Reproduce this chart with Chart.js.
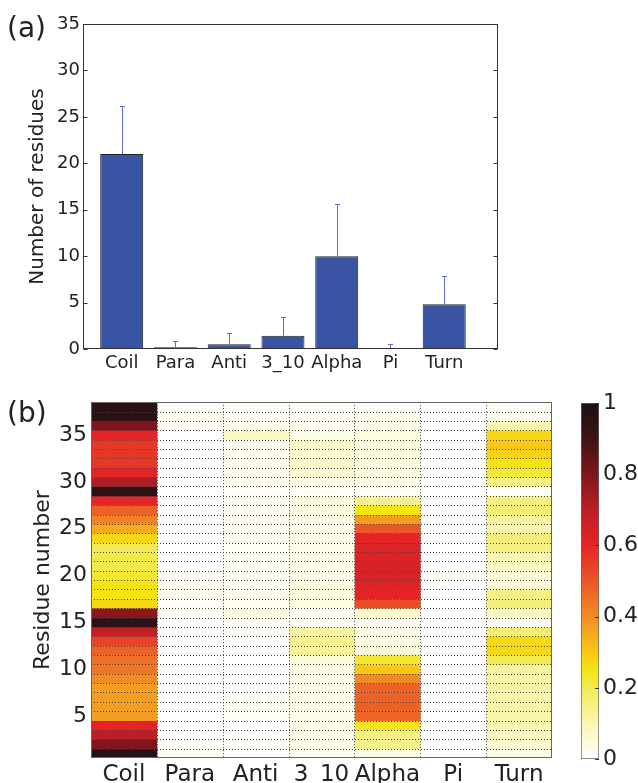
<!DOCTYPE html>
<html>
<head>
<meta charset="utf-8">
<script src="https://cdn.jsdelivr.net/npm/chart.js@4.4.1/dist/chart.umd.min.js"></script>
<style>
  html, body { margin: 0; padding: 0; background: #fff; }
  #wrap { position: relative; width: 638px; height: 783px; overflow: hidden; }
  canvas { position: absolute; }
</style>
</head>
<body>
<div id="wrap">
  <canvas id="bars" width="638" height="385" style="left:0;top:0"></canvas>
  <canvas id="heat" width="560" height="398" style="left:0;top:385px"></canvas>
  <canvas id="cbar" width="78" height="398" style="left:560px;top:385px"></canvas>
</div>
<script>
// secondary structure classes
const categories = ["Coil", "Para", "Anti", "3_10", "Alpha", "Pi", "Turn"];

// (a) mean number of residues per class, with upper error
const meanResidues = [21.0, 0.18, 0.5, 1.43, 10.0, 0.05, 4.82];
const errResidues = [5.2, 0.65, 1.26, 1.98, 5.6, 0.45, 3.05];
const countTicks = [0, 5, 10, 15, 20, 25, 30, 35];

// (b) per-residue probability, residue 1 first
const coilProb = [0.97, 0.8, 0.7, 0.6, 0.37, 0.37, 0.37, 0.37, 0.4, 0.44, 0.45, 0.48, 0.54, 0.68, 0.95, 0.78, 0.27, 0.25, 0.25,
  0.23, 0.21, 0.21, 0.2, 0.27, 0.35, 0.42, 0.48, 0.6, 0.95, 0.72, 0.6, 0.56, 0.56, 0.56, 0.6, 0.8, 0.95, 0.95];
const paraProb = [0.02, 0.01, 0.0, 0.0, 0.0, 0.0, 0.0, 0.0, 0.0, 0.0, 0.0, 0.0, 0.0, 0.0, 0.0, 0.01, 0.01, 0.02, 0.02,
  0.01, 0.0, 0.0, 0.0, 0.0, 0.0, 0.0, 0.0, 0.0, 0.0, 0.0, 0.0, 0.0, 0.0, 0.0, 0.0, 0.01, 0.02, 0.01];
const antiProb = [0.0, 0.01, 0.0, 0.0, 0.01, 0.01, 0.01, 0.0, 0.0, 0.0, 0.0, 0.0, 0.0, 0.01, 0.01, 0.04, 0.02, 0.02, 0.01,
  0.01, 0.01, 0.01, 0.01, 0.01, 0.01, 0.02, 0.01, 0.01, 0.01, 0.02, 0.02, 0.02, 0.02, 0.02, 0.08, 0.02, 0.01, 0.01];
const helix310Prob = [0.02, 0.03, 0.03, 0.03, 0.03, 0.03, 0.03, 0.03, 0.03, 0.03, 0.05, 0.13, 0.14, 0.12, 0.01, 0.01, 0.04, 0.04, 0.04,
  0.03, 0.03, 0.03, 0.03, 0.03, 0.03, 0.03, 0.04, 0.04, 0.01, 0.03, 0.06, 0.07, 0.06, 0.07, 0.03, 0.02, 0.01, 0.01];
const alphaProb = [0.03, 0.14, 0.15, 0.24, 0.47, 0.48, 0.48, 0.48, 0.4, 0.3, 0.23, 0.05, 0.04, 0.03, 0.02, 0.07, 0.52, 0.6, 0.62,
  0.63, 0.63, 0.62, 0.62, 0.6, 0.5, 0.37, 0.25, 0.13, 0.01, 0.03, 0.04, 0.04, 0.04, 0.04, 0.04, 0.03, 0.02, 0.01];
const piProb = [0.0, 0.0, 0.0, 0.0, 0.0, 0.0, 0.0, 0.0, 0.0, 0.0, 0.0, 0.0, 0.0, 0.0, 0.0, 0.0, 0.0, 0.0, 0.0,
  0.01, 0.0, 0.0, 0.0, 0.0, 0.0, 0.0, 0.0, 0.0, 0.0, 0.0, 0.0, 0.0, 0.0, 0.0, 0.0, 0.0, 0.0, 0.0];
const turnProb = [0.03, 0.06, 0.08, 0.1, 0.11, 0.11, 0.11, 0.11, 0.11, 0.12, 0.2, 0.27, 0.27, 0.17, 0.01, 0.08, 0.16, 0.15, 0.05,
  0.05, 0.08, 0.1, 0.15, 0.16, 0.1, 0.12, 0.17, 0.15, 0.01, 0.15, 0.22, 0.25, 0.28, 0.3, 0.27, 0.1, 0.02, 0.01];
const residueTicks = [5, 10, 15, 20, 25, 30, 35];
const colorTicks = [0, 0.2, 0.4, 0.6, 0.8, 1];

const columns = [coilProb, paraProb, antiProb, helix310Prob, alphaProb, piProb, turnProb];
const rowCount = coilProb.length;

// white -> yellow -> red -> black
const cmapStops = [
  [0, [255, 255, 255]], [0.1, [249, 246, 178]], [0.2, [242, 234, 84]], [0.25, [245, 228, 18]],
  [0.3, [248, 200, 22]], [0.4, [241, 140, 36]], [0.5, [235, 86, 38]], [0.6, [229, 36, 40]],
  [0.7, [188, 30, 38]], [0.8, [128, 22, 28]], [0.9, [64, 18, 22]], [1, [24, 18, 20]]
];

function cmap(v) {
  for (let i = 1; i < cmapStops.length; i++) {
    const [t1, c1] = cmapStops[i];
    if (v <= t1) {
      const [t0, c0] = cmapStops[i - 1];
      const f = (v - t0) / (t1 - t0);
      const c = c0.map((a, k) => Math.round(a + (c1[k] - a) * f));
      return `rgb(${c[0]},${c[1]},${c[2]})`;
    }
  }
  const last = cmapStops[cmapStops.length - 1][1];
  return `rgb(${last[0]},${last[1]},${last[2]})`;
}

Chart.defaults.font.family = "'DejaVu Sans', sans-serif";
Chart.defaults.color = "#222";

const panelLabel = {
  id: "panelLabel",
  afterDraw(chart, args, opts) {
    const { ctx } = chart;
    ctx.save();
    ctx.font = `${opts.size}px 'DejaVu Sans'`;
    ctx.fillStyle = "#222";
    ctx.textBaseline = "middle";
    ctx.fillText(opts.text, opts.x, opts.y);
    ctx.restore();
  }
};

const errorBars = {
  id: "errorBars",
  afterDatasetsDraw(chart, args, opts) {
    const { ctx, scales: { x, y } } = chart;
    ctx.save();
    ctx.strokeStyle = opts.color;
    ctx.lineWidth = 1;
    meanResidues.forEach((v, i) => {
      const px = Math.round(x.getPixelForValue(i)) + 0.5;
      const y0 = y.getPixelForValue(v);
      const y1 = Math.round(y.getPixelForValue(v + errResidues[i])) + 0.5;
      ctx.beginPath();
      ctx.moveTo(px, y0);
      ctx.lineTo(px, y1);
      ctx.moveTo(px - opts.cap, y1);
      ctx.lineTo(px + opts.cap, y1);
      ctx.stroke();
    });
    ctx.restore();
  }
};

// box around the axes with short inward ticks on both sides
const frame = {
  id: "frame",
  afterDraw(chart, args, opts) {
    const { ctx, chartArea: a, scales: { y } } = chart;
    const l = Math.round(a.left) + 0.5, r = Math.round(a.right) - 0.5;
    const t = Math.round(a.top) + 0.5, b = Math.round(a.bottom) - 0.5;
    ctx.save();
    ctx.strokeStyle = opts.color;
    ctx.lineWidth = 1;
    ctx.strokeRect(l, t, r - l, b - t);
    ctx.beginPath();
    y.ticks.forEach(tk => {
      const py = Math.round(y.getPixelForValue(tk.value)) + 0.5;
      ctx.moveTo(l, py); ctx.lineTo(l + opts.tick, py);
      ctx.moveTo(r, py); ctx.lineTo(r - opts.tick, py);
    });
    ctx.stroke();
    ctx.restore();
  }
};

const cellGrid = {
  id: "cellGrid",
  afterDatasetsDraw(chart, args, opts) {
    const { ctx, chartArea: a, scales: { x, y } } = chart;
    ctx.save();
    ctx.strokeStyle = opts.color;
    ctx.lineWidth = 1;
    ctx.setLineDash(opts.dash);
    ctx.beginPath();
    for (let r = 1; r < rowCount; r++) {
      const py = Math.round(y.getPixelForValue(r + 0.5)) + 0.5;
      ctx.moveTo(a.left, py);
      ctx.lineTo(a.right, py);
    }
    for (let c = 0; c < categories.length - 1; c++) {
      const px = Math.round((x.getPixelForValue(c) + x.getPixelForValue(c + 1)) / 2) + 0.5;
      ctx.moveTo(px, a.top);
      ctx.lineTo(px, a.bottom);
    }
    ctx.stroke();
    ctx.setLineDash([]);
    ctx.strokeStyle = opts.frame;
    ctx.strokeRect(Math.round(a.left) + 0.5, Math.round(a.top) + 0.5,
      Math.round(a.right - a.left) - 1, Math.round(a.bottom - a.top) - 1);
    ctx.restore();
  }
};

const colorbarTicks = {
  id: "colorbarTicks",
  afterDraw(chart, args, opts) {
    const { ctx, chartArea: a, scales: { y } } = chart;
    ctx.save();
    ctx.strokeStyle = opts.color;
    ctx.lineWidth = 1;
    ctx.beginPath();
    y.ticks.forEach(tk => {
      const py = Math.round(y.getPixelForValue(tk.value)) + 0.5;
      ctx.moveTo(a.right, py);
      ctx.lineTo(a.right - opts.tick, py);
    });
    ctx.stroke();
    ctx.restore();
  }
};

// (a) bar chart
new Chart(document.getElementById("bars"), {
  type: "bar",
  data: {
    datasets: [{
      data: meanResidues.map((v, i) => ({ x: i, y: v })),
      backgroundColor: "#3a54a4",
      borderColor: "#222",
      borderWidth: 1,
      borderSkipped: false,
      barPercentage: 0.8,
      categoryPercentage: 1,
    }],
  },
  options: {
    responsive: false,
    animation: false,
    devicePixelRatio: 1,
    layout: { padding: { top: 24, right: 140, left: 0, bottom: 0 } },
    plugins: {
      legend: { display: false },
      tooltip: { enabled: false },
      panelLabel: { text: "(a)", x: 7, y: 30, size: 28 },
      errorBars: { color: "#5a6ed4", cap: 2.5 },
      frame: { color: "#333", tick: 4 },
    },
    scales: {
      x: {
        type: "linear",
        min: -0.72,
        max: 7.0,
        offset: false,
        grid: { display: false, drawTicks: false },
        border: { display: false },
        afterBuildTicks: s => { s.ticks = categories.map((_, i) => ({ value: i })); },
        ticks: { callback: v => categories[v], font: { size: 18 }, padding: 4, maxRotation: 0, autoSkip: false },
        afterFit: s => { s.height = 36; },
      },
      y: {
        min: 0,
        max: 35,
        grid: { display: false, drawTicks: false },
        border: { display: false },
        afterBuildTicks: s => { s.ticks = countTicks.map(v => ({ value: v })); },
        ticks: { font: { size: 18 }, padding: 3 },
        title: { display: true, text: "Number of residues", font: { size: 20 }, padding: { top: 26 } },
        afterFit: s => { s.width = 83; },
      },
    },
  },
  plugins: [errorBars, frame, panelLabel],
});

// (b) per-residue heatmap, one floating-bar dataset per class
new Chart(document.getElementById("heat"), {
  type: "bar",
  data: {
    labels: categories,
    datasets: columns.map((vals, c) => ({
      data: vals.map((v, i) => ({ x: categories[c], y: [i + 0.5, i + 1.5] })),
      backgroundColor: vals.map(cmap),
      borderWidth: 0,
      grouped: false,
      barPercentage: 1,
      categoryPercentage: 1,
    })),
  },
  options: {
    responsive: false,
    animation: false,
    devicePixelRatio: 1,
    layout: { padding: { top: 17, right: 8, left: 0, bottom: 0 } },
    plugins: {
      legend: { display: false },
      tooltip: { enabled: false },
      panelLabel: { text: "(b)", x: 7, y: 30, size: 28 },
      cellGrid: { color: "#444", dash: [1, 2], frame: "#666" },
    },
    scales: {
      x: {
        offset: true,
        grid: { display: false, drawTicks: false },
        border: { display: false },
        ticks: { font: { size: 23 }, padding: 3, maxRotation: 0, autoSkip: false },
        afterFit: s => { s.height = 25; },
      },
      y: {
        min: 0.5,
        max: 38.5,
        grid: { display: false, drawTicks: false },
        border: { display: false },
        afterBuildTicks: s => { s.ticks = residueTicks.map(v => ({ value: v })); },
        ticks: { font: { size: 22 }, padding: 4 },
        title: { display: true, text: "Residue number", font: { size: 22 }, padding: { top: 30 } },
        afterFit: s => { s.width = 91; },
      },
    },
  },
  plugins: [cellGrid, panelLabel],
});

// colour scale for (b)
new Chart(document.getElementById("cbar"), {
  type: "bar",
  data: {
    labels: [""],
    datasets: [{
      data: [[0, 1]],
      backgroundColor(context) {
        const chart = context.chart;
        if (!chart.chartArea) return "transparent";
        const y = chart.scales.y;
        const g = chart.ctx.createLinearGradient(0, y.getPixelForValue(0), 0, y.getPixelForValue(1));
        cmapStops.forEach(([t, c]) => g.addColorStop(t, `rgb(${c[0]},${c[1]},${c[2]})`));
        return g;
      },
      borderColor: "#666",
      borderWidth: 1,
      borderSkipped: false,
      barPercentage: 1,
      categoryPercentage: 1,
    }],
  },
  options: {
    responsive: false,
    animation: false,
    devicePixelRatio: 1,
    layout: { padding: { top: 18, left: 21, right: 0, bottom: 24 } },
    plugins: {
      legend: { display: false },
      tooltip: { enabled: false },
      colorbarTicks: { color: "#333", tick: 4 },
    },
    scales: {
      x: { display: false },
      y: {
        position: "right",
        min: 0,
        max: 1,
        grid: { display: false, drawTicks: false },
        border: { display: false },
        afterBuildTicks: s => { s.ticks = colorTicks.map(v => ({ value: v })); },
        ticks: { font: { size: 22 }, padding: 4, callback: v => (v === 0 || v === 1 ? String(v) : v.toFixed(1)) },
        afterFit: s => { s.width = 39; },
      },
    },
  },
  plugins: [colorbarTicks],
});
</script>
</body>
</html>
